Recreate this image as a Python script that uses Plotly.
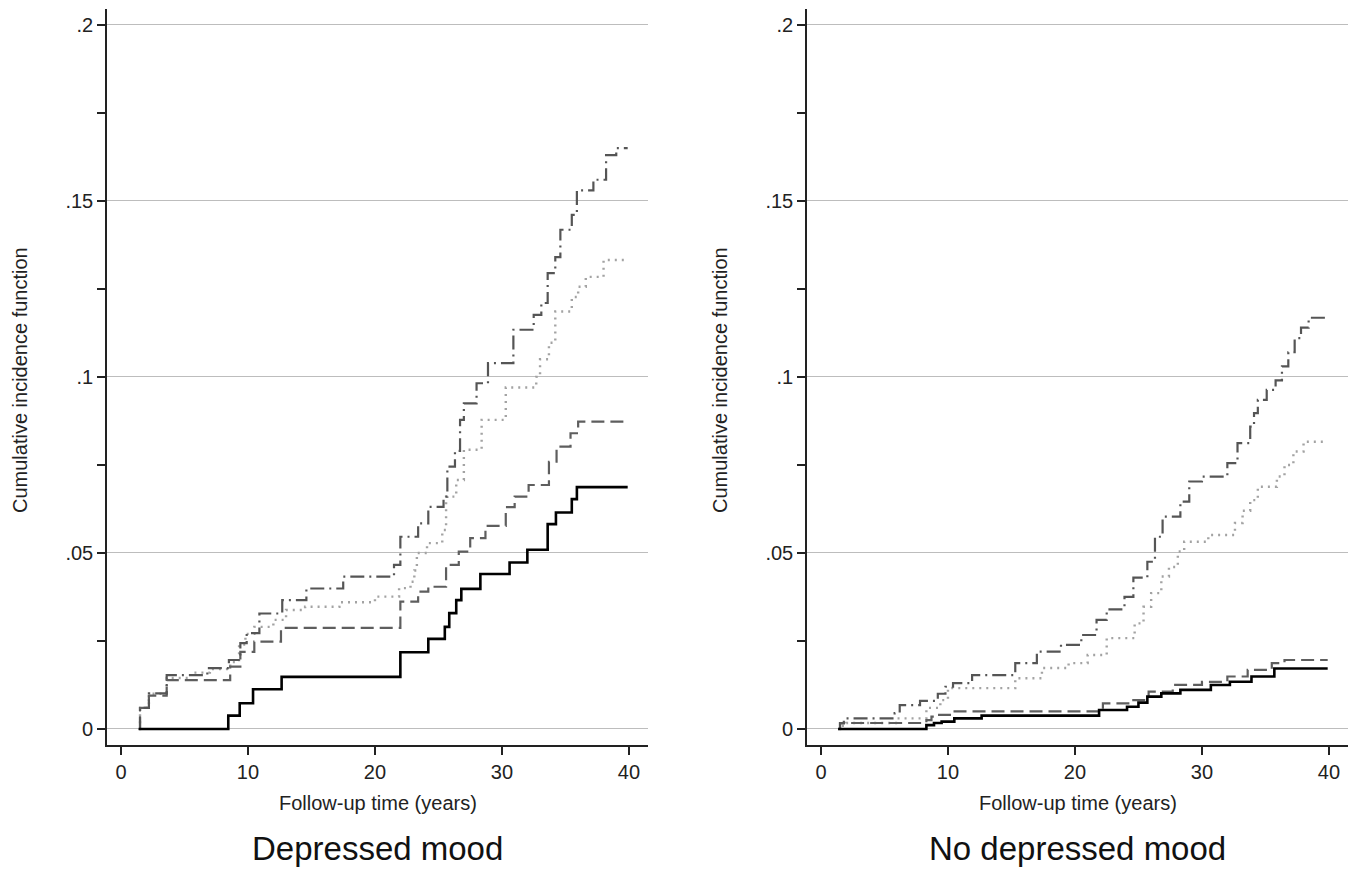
import plotly.graph_objects as go

# ---------------- data ----------------
x_ticks = [0, 10, 20, 30, 40]
x_labels = ["0", "10", "20", "30", "40"]
y_ticks = [0, 0.05, 0.10, 0.15, 0.20]
y_labels = ["0", ".05", ".1", ".15", ".2"]
y_minor = [0.025, 0.075, 0.125, 0.175]

panel_titles = ["Depressed mood", "No depressed mood"]
x_title = "Follow-up time (years)"
y_title = "Cumulative incidence function"

# Depressed mood panel
dm_solid_t = [1.4, 8.45, 9.35, 10.4, 12.65, 22.0, 24.2, 25.5, 25.85, 26.4, 26.8, 28.3, 30.6, 32.0, 33.6, 34.25, 35.5, 35.9, 39.9]
dm_solid_v = [0, .0038, .0073, .0113, .0148, .0218, .0256, .029, .0329, .0366, .0398, .044, .0473, .0509, .0582, .0615, .0653, .0687, .0687]

dm_ldash_t = [1.4, 1.5, 2.2, 3.6, 8.6, 9.4, 10.5, 12.6, 22.0, 23.4, 24.2, 25.6, 26.6, 27.5, 28.7, 30.3, 31.0, 32.1, 33.7, 34.3, 35.4, 36.0, 39.9]
dm_ldash_v = [0, .006, .0095, .0139, .0177, .0219, .0248, .0287, .0362, .039, .0404, .0466, .0504, .0542, .0577, .063, .066, .0693, .0759, .0802, .084, .0873, .0873]

dm_dot_t = [1.4, 1.5, 2.2, 3.6, 5.5, 7.0, 8.6, 9.3, 9.8, 10.5, 12.0, 13.0, 14.5, 17.2, 20.0, 21.9, 22.8, 23.1, 23.3, 24.1, 25.3, 25.6, 26.4, 27.0, 28.4, 30.3, 32.7, 33.0, 33.7, 34.2, 35.5, 36.0, 36.6, 38.0, 39.9]
dm_dot_v = [0, .006, .010, .0145, .016, .017, .019, .024, .027, .029, .031, .0338, .0347, .036, .0376, .040, .0418, .045, .050, .0528, .0565, .066, .0707, .0793, .0878, .097, .100, .105, .1097, .1186, .1227, .1256, .1284, .1332, .1332]

dm_dd_t = [1.4, 1.5, 2.2, 3.6, 6.8, 8.5, 9.4, 9.9, 10.9, 12.7, 14.6, 17.5, 21.5, 22.0, 23.4, 24.2, 25.4, 25.7, 26.3, 26.7, 27.0, 28.0, 28.9, 30.9, 32.5, 33.1, 33.6, 34.2, 34.6, 35.5, 35.9, 37.2, 38.2, 39.0, 39.9]
dm_dd_v = [0, .006, .0101, .0153, .0173, .0196, .0244, .0272, .0328, .0366, .0399, .0433, .0466, .0546, .0584, .0631, .066, .0745, .079, .0878, .0925, .0982, .1039, .1134, .1176, .121, .1295, .134, .1418, .146, .153, .156, .163, .165, .165]

# No depressed mood panel
nd_solid_t = [1.35, 8.3, 8.9, 9.5, 10.5, 12.65, 21.9, 24.1, 25.0, 25.7, 26.8, 28.3, 30.7, 32.2, 33.9, 35.7, 39.9]
nd_solid_v = [0, .0011, .0017, .0021, .003, .0038, .0054, .0063, .0075, .0092, .0101, .0111, .0125, .0134, .0149, .0172, .0172]

nd_ldash_t = [1.35, 1.5, 8.3, 8.7, 9.2, 10.4, 22.2, 24.2, 25.8, 27.7, 30.0, 32.0, 33.6, 35.5, 36.5, 39.9]
nd_ldash_v = [0, .0017, .0025, .0035, .004, .005, .0073, .0082, .0106, .0125, .0134, .0149, .0168, .0187, .0196, .0196]

nd_dot_t = [1.35, 1.5, 2.0, 6.0, 8.3, 9.4, 10.0, 15.3, 17.4, 19.5, 21.0, 22.5, 24.7, 25.4, 26.0, 26.8, 27.4, 28.1, 28.6, 30.5, 32.6, 33.2, 33.8, 34.4, 35.9, 36.5, 37.2, 38.0, 39.9]
nd_dot_v = [0, .0009, .0017, .003, .006, .0082, .0116, .0144, .0173, .0187, .021, .0258, .030, .0347, .0386, .0433, .046, .0504, .0532, .0551, .0585, .062, .065, .0688, .0717, .075, .0788, .0816, .0816]

nd_dd_t = [1.35, 1.5, 1.8, 5.8, 6.2, 7.8, 9.2, 9.8, 10.4, 11.9, 15.3, 17.0, 18.9, 20.5, 21.7, 22.5, 23.9, 24.6, 25.7, 26.3, 26.9, 28.3, 29.0, 30.0, 32.0, 32.8, 33.8, 34.1, 34.4, 35.1, 35.8, 36.3, 36.8, 37.3, 37.8, 38.4, 39.9]
nd_dd_v = [0, .0016, .003, .0045, .0068, .008, .010, .012, .013, .0153, .0187, .022, .0239, .0267, .031, .034, .0375, .043, .0475, .0546, .0603, .0646, .0703, .0717, .0755, .0812, .0859, .0897, .0935, .0963, .099, .103, .107, .111, .114, .1168, .1168]

# ---------------- styling ----------------
FONT = "Liberation Sans, Arial, Helvetica, sans-serif"
styles = {
    "dot":   dict(color="#a3a3a3", width=2.4, dash="2px,5px"),
    "ldash": dict(color="#5e5e5e", width=2.2, dash="13px,6px"),
    "dd":    dict(color="#555555", width=2.2, dash="14px,5px,2px,5px"),
    "solid": dict(color="#000000", width=2.6, dash="solid"),
}

panels = [
    ("x", "y", [("dot", dm_dot_t, dm_dot_v), ("ldash", dm_ldash_t, dm_ldash_v),
                ("dd", dm_dd_t, dm_dd_v), ("solid", dm_solid_t, dm_solid_v)]),
    ("x2", "y2", [("dot", nd_dot_t, nd_dot_v), ("ldash", nd_ldash_t, nd_ldash_v),
                  ("dd", nd_dd_t, nd_dd_v), ("solid", nd_solid_t, nd_solid_v)]),
]

fig = go.Figure()
for xa, ya, series in panels:
    for key, t, v in series:
        fig.add_trace(go.Scatter(x=t, y=v, mode="lines", line_shape="hv",
                                 line=styles[key], xaxis=xa, yaxis=ya,
                                 showlegend=False, hoverinfo="skip"))

# page has an 8px body margin; figure is sized to sit inside 1360x875
OFF = 8
W, H = 1360 - OFF, 875 - OFF

def xp(px):
    return (px - OFF) / W

def yp(py):
    return 1 - (py - OFF) / H

ydom = [yp(745), yp(9)]
xdoms = [[xp(107), xp(648)], [xp(807), xp(1348)]]

def xaxis(dom, anchor):
    return dict(domain=dom, anchor=anchor, range=[-1.1, 41.5],
                tickmode="array", tickvals=x_ticks, ticktext=x_labels,
                ticks="outside", ticklen=8, tickwidth=1.5, tickcolor="#222",
                showline=True, linecolor="#222", linewidth=1.6,
                showgrid=False, zeroline=False,
                tickfont=dict(family=FONT, size=20, color="#222"))

def yaxis(anchor):
    return dict(domain=ydom, anchor=anchor, range=[-0.00455, 0.2045],
                tickmode="array", tickvals=y_ticks, ticktext=y_labels,
                ticks="outside", ticklen=8, tickwidth=1.5, tickcolor="#222",
                showline=True, linecolor="#222", linewidth=1.6,
                showgrid=True, gridcolor="#bdbdbd", gridwidth=1.2,
                zeroline=False,
                minor=dict(tickmode="array", tickvals=y_minor, ticks="outside",
                           ticklen=8, tickwidth=1.5, tickcolor="#222", showgrid=False),
                tickfont=dict(family=FONT, size=20, color="#222"))

annotations = []
for i, dom in enumerate(xdoms):
    cx = (dom[0] + dom[1]) / 2
    annotations.append(dict(text=x_title, x=cx, y=yp(803), xref="paper", yref="paper",
                            showarrow=False, xanchor="center", yanchor="middle",
                            font=dict(family=FONT, size=20, color="#222")))
    annotations.append(dict(text=panel_titles[i], x=cx, y=yp(848), xref="paper", yref="paper",
                            showarrow=False, xanchor="center", yanchor="middle",
                            font=dict(family=FONT, size=33, color="#111")))
    annotations.append(dict(text=y_title, x=xp(20 if i == 0 else 720), y=yp(380),
                            xref="paper", yref="paper",
                            showarrow=False, xanchor="center", yanchor="middle", textangle=-90,
                            font=dict(family=FONT, size=20, color="#222")))

fig.update_layout(
    width=W, height=H,
    margin=dict(l=0, r=0, t=0, b=0),
    paper_bgcolor="white", plot_bgcolor="white",
    xaxis=xaxis(xdoms[0], "y"), yaxis=yaxis("x"),
    xaxis2=xaxis(xdoms[1], "y2"), yaxis2=yaxis("x2"),
    annotations=annotations,
)

fig.write_html("out.html")
